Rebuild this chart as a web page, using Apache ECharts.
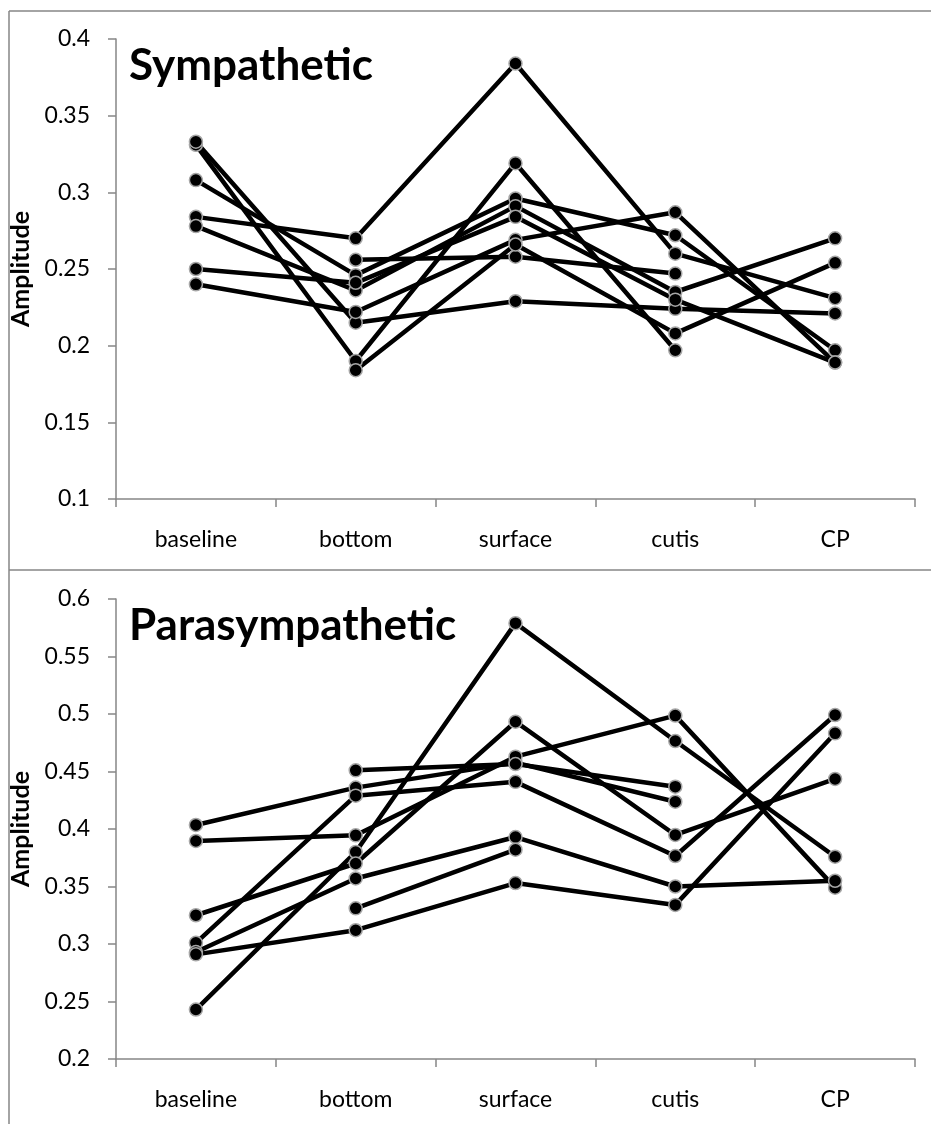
<!DOCTYPE html>
<html>
<head>
<meta charset="utf-8">
<script src="https://cdn.jsdelivr.net/npm/echarts@6/dist/echarts.min.js"></script>
<style>
  html, body { margin: 0; padding: 0; background: #fff; }
  #chart { width: 931px; height: 1124px; }
</style>
</head>
<body>
<div id="chart"></div>
<script>
// Stimulation sites along the x axis
const categories = ['baseline', 'bottom', 'surface', 'cutis', 'CP'];

// Value axis ranges and tick step for each panel
const symAxis = { min: 0.1, max: 0.4, step: 0.05 };
const paraAxis = { min: 0.2, max: 0.6, step: 0.05 };

// Sympathetic amplitude, one array per subject (baseline, bottom, surface, cutis, CP)
const sym1 = [0.284, 0.270, 0.384, 0.260, 0.231];
const sym2 = [0.331, 0.190, 0.319, 0.197, null];
const sym3 = [0.333, 0.215, 0.229, 0.224, 0.221];
const sym4 = [0.308, 0.246, 0.296, 0.272, 0.197];
const sym5 = [0.278, 0.236, 0.291, 0.235, 0.270];
const sym6 = [0.250, 0.241, 0.284, 0.230, 0.189];
const sym7 = [0.240, 0.222, 0.269, 0.287, 0.189];
const sym8 = [null, 0.256, 0.258, 0.247, null];
const sym9 = [null, 0.184, 0.266, 0.208, 0.254];

// Parasympathetic amplitude, one array per subject
const para1 = [0.4035, 0.436, 0.4577, 0.4237, null];
const para2 = [0.3896, 0.3945, 0.4629, 0.4986, 0.349];
const para3 = [0.301, 0.429, 0.441, 0.3765, 0.4991];
const para4 = [0.243, 0.380, 0.579, 0.4765, 0.3759];
const para5 = [0.325, 0.370, 0.4933, 0.3948, 0.4435];
const para6 = [0.293, 0.357, 0.393, 0.350, 0.355];
const para7 = [0.291, 0.312, 0.353, 0.334, 0.4832];
const para8 = [null, 0.451, 0.4565, 0.4368, null];
const para9 = [null, 0.331, 0.382, null, null];

const symSeries = [sym1, sym2, sym3, sym4, sym5, sym6, sym7, sym8, sym9];
const paraSeries = [para1, para2, para3, para4, para5, para6, para7, para8, para9];

const FONT = 'Lato, "Open Sans", sans-serif';
const AXIS_GRAY = '#868686';

function xAxisFor(gridIndex) {
  return {
    type: 'category',
    gridIndex: gridIndex,
    data: categories,
    boundaryGap: true,
    axisLine: { lineStyle: { color: AXIS_GRAY, width: 1.5 } },
    axisTick: { show: true, interval: 0, length: 8, lineStyle: { color: AXIS_GRAY, width: 1.5 } },
    axisLabel: { color: '#000', fontFamily: FONT, fontSize: 23, margin: 29, interval: 0 },
    splitLine: { show: false }
  };
}

function yAxisFor(gridIndex, range) {
  return {
    type: 'value',
    gridIndex: gridIndex,
    min: range.min,
    max: range.max,
    interval: range.step,
    name: 'Amplitude',
    nameLocation: 'middle',
    nameGap: 66,
    nameTextStyle: { color: '#000', fontFamily: FONT, fontWeight: 'bold', fontSize: 25 },
    axisLine: { show: true, lineStyle: { color: AXIS_GRAY, width: 1.5 } },
    axisTick: { show: true, length: 8, lineStyle: { color: AXIS_GRAY, width: 1.5 } },
    axisLabel: {
      color: '#000', fontFamily: FONT, fontSize: 23, margin: 26,
      formatter: v => String(parseFloat(v.toFixed(2)))
    },
    splitLine: { show: false }
  };
}

function lineSeries(values, axisIndex) {
  return {
    type: 'line',
    xAxisIndex: axisIndex,
    yAxisIndex: axisIndex,
    data: values,
    connectNulls: false,
    symbol: 'circle',
    symbolSize: 13,
    showAllSymbol: true,
    lineStyle: { color: '#000', width: 4.5 },
    itemStyle: { color: '#000', borderColor: '#a6a6a6', borderWidth: 1.5 },
    emphasis: { disabled: true },
    animation: false,
    z: 3
  };
}

const series = []
  .concat(symSeries.map(s => lineSeries(s, 0)))
  .concat(paraSeries.map(s => lineSeries(s, 1)));

const chart = echarts.init(document.getElementById('chart'), null, { renderer: 'canvas' });

chart.setOption({
  backgroundColor: '#fff',
  animation: false,
  grid: [
    { left: 116, top: 39, width: 799, height: 460 },
    { left: 116, top: 599, width: 799, height: 460 }
  ],
  xAxis: [xAxisFor(0), xAxisFor(1)],
  yAxis: [yAxisFor(0, symAxis), yAxisFor(1, paraAxis)],
  series: series,
  graphic: [
    // outer frame and panel divider
    { type: 'line', shape: { x1: 9, y1: 11, x2: 931, y2: 11 }, style: { stroke: AXIS_GRAY, lineWidth: 1.5 } },
    { type: 'line', shape: { x1: 9, y1: 11, x2: 9, y2: 1124 }, style: { stroke: AXIS_GRAY, lineWidth: 1.5 } },
    { type: 'line', shape: { x1: 9, y1: 570, x2: 931, y2: 570 }, style: { stroke: AXIS_GRAY, lineWidth: 1.5 } },
    // panel titles
    { type: 'text', left: 129, top: 44, z: 10,
      style: { text: 'Sympathetic', fill: '#000', font: 'bold 44px ' + FONT } },
    { type: 'text', left: 129, top: 604, z: 10,
      style: { text: 'Parasympathetic', fill: '#000', font: 'bold 44px ' + FONT } }
  ]
});
</script>
</body>
</html>
